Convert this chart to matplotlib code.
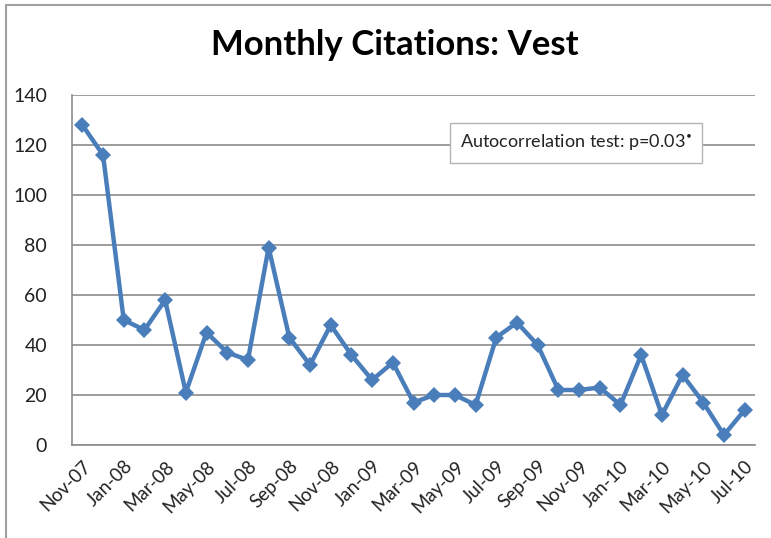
import matplotlib
matplotlib.use("Agg")
import matplotlib.pyplot as plt
from matplotlib.patches import Rectangle

months = ["Nov-07", "Dec-07", "Jan-08", "Feb-08", "Mar-08", "Apr-08", "May-08", "Jun-08",
          "Jul-08", "Aug-08", "Sep-08", "Oct-08", "Nov-08", "Dec-08", "Jan-09", "Feb-09",
          "Mar-09", "Apr-09", "May-09", "Jun-09", "Jul-09", "Aug-09", "Sep-09", "Oct-09",
          "Nov-09", "Dec-09", "Jan-10", "Feb-10", "Mar-10", "Apr-10", "May-10", "Jun-10",
          "Jul-10"]
citations = [128, 116, 50, 46, 58, 21, 45, 37, 34, 79, 43, 32, 48, 36, 26, 33,
             17, 20, 20, 16, 43, 49, 40, 22, 22, 23, 16, 36, 12, 28, 17, 4, 14]
y_ticks = [0, 20, 40, 60, 80, 100, 120, 140]
title = "Monthly Citations: Vest"
note = "Autocorrelation test: p=0.03"

plt.rcParams['font.family'] = ['Lato', 'DejaVu Sans']

fig = plt.figure(figsize=(7.71, 5.38), dpi=100)
# outer chart border (top and left visible)
fig.patches.append(Rectangle((6 / 771, -0.05), 1.2, 1 - 5 / 538 + 0.05, transform=fig.transFigure,
                             fill=False, edgecolor="#a0a0a0", linewidth=1.5))

ax = fig.add_axes([72 / 771, 1 - 445 / 538, (755 - 72) / 771, (445 - 95) / 538])
x = list(range(len(months)))
ax.plot(x, citations, color="#4a7ebb", linewidth=3.2, marker="D", markersize=8.5,
        markeredgewidth=0, zorder=3)

ax.set_xlim(-0.5, len(months) - 0.5)
ax.set_ylim(0, 140)
ax.set_yticks(y_ticks)
ax.set_yticklabels([str(v) for v in y_ticks], fontsize=14, color="#222222")
ax.set_xticks(x[::2])
ax.set_xticklabels(months[::2], rotation=45, ha="right", va="top",
                   rotation_mode="anchor", fontsize=13.5, color="#222222")
ax.tick_params(axis="y", length=0, pad=18)
ax.tick_params(axis="x", length=0, pad=9)
ax.grid(axis="y", color="#8c8c8c", linewidth=1.2)
ax.set_axisbelow(True)
for side in ["top", "right"]:
    ax.spines[side].set_visible(False)
for side in ["left", "bottom"]:
    ax.spines[side].set_color("#8c8c8c")
    ax.spines[side].set_linewidth(1.2)

fig.text(395 / 771, 1 - 45 / 538, title, ha="center", va="center",
         fontsize=25, fontweight="bold", color="black")

ax.text(0.738, 0.864, note + r"$^{\bullet}$", transform=ax.transAxes, ha="center", va="center",
        fontsize=13, color="#222222",
        bbox=dict(boxstyle="square,pad=0.55", facecolor="white", edgecolor="#b4b4b4", linewidth=1))

fig.savefig("out.png", dpi=100)
